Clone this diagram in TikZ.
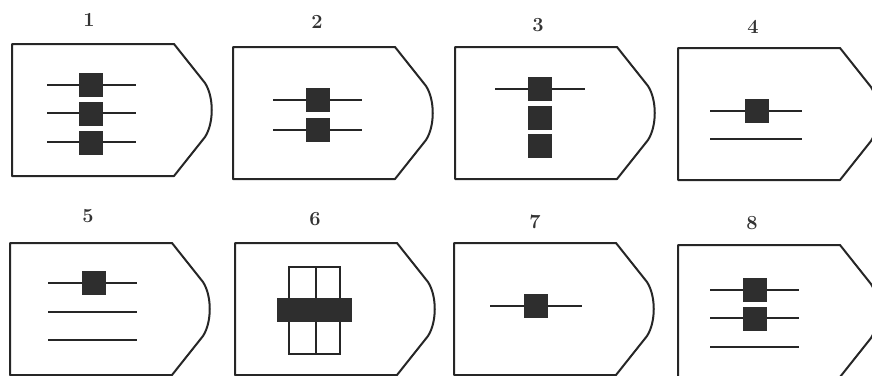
\documentclass[tikz,border=0pt]{standalone}
\begin{document}
\begin{tikzpicture}[x=1pt,y=-1pt,
  outline/.style={draw=black!85,line width=2pt,line join=round},
  bar/.style={draw=black!85,line width=2.4pt},
  blk/.style={fill=black!82},
  openbox/.style={draw=black!85,line width=2pt},
  num/.style={font=\fontsize{20}{20}\selectfont\bfseries,text=black!80,inner sep=0pt}]
\useasboundingbox (0,0) rectangle (872,375);
\clip (0,0) rectangle (872,375);
\newcommand\tagat[3]{%
  \begin{scope}[shift={(#1,#2)}]
    \draw[outline] (0,0) -- (162,0) -- (193,39) .. controls (202,53) and (202,79) .. (193,93) -- (162,132) -- (0,132) -- cycle;
    \coordinate (#3) at (100,66);
  \end{scope}}
\newcommand\sqat[2]{\fill[blk] (#1-12,#2-12) rectangle (#1+12,#2+12);}
% outlines
\tagat{12}{44}{p1}
\tagat{233}{47}{p2}
\tagat{455}{47}{p3}
\tagat{678}{48}{p4}
\tagat{10}{243}{p5}
\tagat{235}{243}{p6}
\tagat{454}{243}{p7}
\tagat{678}{245}{p8}
% labels
\node[num] (n1) at (89,20) {1};
\node[num] (n2) at (317,22) {2};
\node[num] (n3) at (538,25) {3};
\node[num] (n4) at (753,27) {4};
\node[num] (n5) at (88,216) {5};
\node[num] (n6) at (315,219) {6};
\node[num] (n7) at (535,222) {7};
\node[num] (n8) at (752,223) {8};
% panel 1
\draw[bar] (47,85) -- (136,85);
\draw[bar] (47,113) -- (136,113);
\draw[bar] (47,142) -- (136,142);
\sqat{91}{84.5}\sqat{91}{113.5}\sqat{91}{142.5}
% panel 2
\draw[bar] (273,100) -- (362,100);
\draw[bar] (273,130) -- (362,130);
\sqat{317.5}{100}\sqat{317.5}{129.5}
% panel 3
\draw[bar] (495,89) -- (585,89);
\sqat{539.5}{88.5}\sqat{539.5}{117.5}\sqat{539.5}{146}
% panel 4
\draw[bar] (710,111) -- (802,111);
\draw[bar] (710,139) -- (802,139);
\sqat{756.5}{110.5}
% panel 5
\draw[bar] (48,283) -- (137,283);
\draw[bar] (48,312) -- (137,312);
\draw[bar] (48,340) -- (137,340);
\sqat{93.5}{283}
% panel 6
\draw[openbox] (289,267) rectangle (316,354);
\draw[openbox] (316,267) rectangle (340,354);
\fill[blk] (277,298) rectangle (352,322);
% panel 7
\draw[bar] (490,306) -- (582,306);
\sqat{535.5}{305.5}
% panel 8
\draw[bar] (710,290) -- (799,290);
\draw[bar] (710,318) -- (799,318);
\draw[bar] (710,347) -- (799,347);
\sqat{755}{289.5}\sqat{755}{319}
\end{tikzpicture}
\end{document}
